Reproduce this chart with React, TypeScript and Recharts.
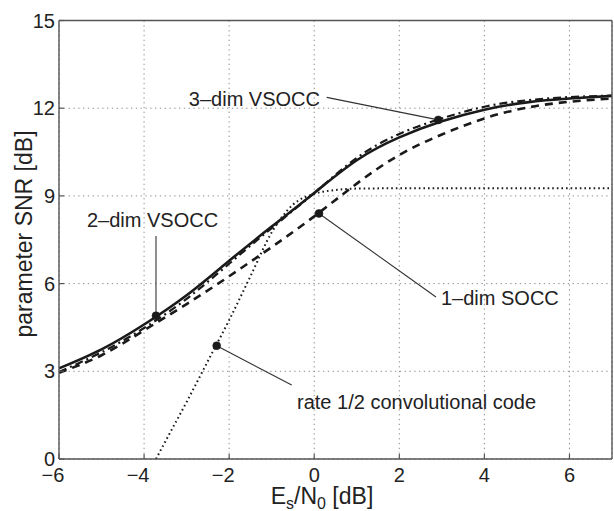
import React from 'react';
import { LineChart, Line, XAxis, YAxis, CartesianGrid, ReferenceDot, ReferenceLine } from 'recharts';

// Es/N0 [dB] sample points for the three VSOCC/SOCC curves
const esn0 = [-6, -5, -4, -3, -2, -1, 0, 1, 2, 3, 4, 5, 6, 7];
const vsocc2 = [3.1, 3.75, 4.6, 5.6, 6.78, 7.95, 9.1, 10.22, 11.0, 11.55, 11.95, 12.2, 12.33, 12.42];
const vsocc3 = [2.98, 3.65, 4.48, 5.48, 6.68, 7.9, 9.1, 10.3, 11.12, 11.65, 12.05, 12.27, 12.38, 12.43];
const socc1 = [2.95, 3.55, 4.4, 5.3, 6.25, 7.25, 8.3, 9.42, 10.4, 11.1, 11.65, 12.02, 12.22, 12.33];
// rate 1/2 convolutional code
const convX = [-3.72, -3.5, -3, -2.5, -2, -1.5, -1, -0.5, 0, 0.5, 1, 2, 7];
const convY = [0, 0.6, 1.95, 3.35, 4.75, 6.25, 7.75, 8.7, 9.07, 9.2, 9.25, 9.26, 9.26];

const xTicks = [-6, -4, -2, 0, 2, 4, 6];
const yTicks = [0, 3, 6, 9, 12, 15];

// annotations (data coordinates)
const annLabels = ['3\u2013dim VSOCC', '2\u2013dim VSOCC', '1\u2013dim SOCC', 'rate 1/2 convolutional code'];
const annDotX = [2.916, -3.72, 0.112, -2.293];
const annDotY = [11.6, 4.9, 8.4, 3.875];
const annLineX = [0.293, -3.72, 2.862, -0.53];
const annLineY = [12.37, 7.63, 5.54, 2.53];
const annTextX = [0.135, -2.26, 2.98, -0.405];
const annTextY = [12.07, 7.94, 5.27, 1.7];
const annAnchor = ['end', 'end', 'start', 'start'];

const FONT = '"Liberation Sans", Arial, Helvetica, sans-serif';
const INK = '#1a1a1a';
const AXIS = '#555';

const toPts = (xs: number[], ys: number[]) => xs.map((x, i) => ({ x, y: ys[i] }));
const d2 = toPts(esn0, vsocc2);
const d3 = toPts(esn0, vsocc3);
const d1 = toPts(esn0, socc1);
const dc = toPts(convX, convY);

const XTick = (props: any) => {
  const { x, y, payload } = props;
  const v = payload.value as number;
  const s = v < 0 ? '\u2212' + Math.abs(v) : String(v);
  return (
    <text x={x} y={y} dy="0.71em" dx={v < 0 ? -6 : 0} textAnchor="middle" fontSize={20} fontFamily={FONT} fill="#222">
      {s}
    </text>
  );
};

const YTitle = () => (
  <text x={31.5} y={234} transform="rotate(-90 31.5 234)" textAnchor="middle" fontSize={23} fontFamily={FONT} fill="#222">
    parameter SNR [dB]
  </text>
);

const XTitle = () => (
  <text x={322} y={504} textAnchor="middle" fontSize={23} fontFamily={FONT} fill="#222">
    E<tspan fontSize={16} dy={5}>s</tspan>
    <tspan dy={-5}>/N</tspan>
    <tspan fontSize={16} dy={5}>0</tspan>
    <tspan dy={-5}>{'\u00a0[dB]'}</tspan>
  </text>
);

const makeTextShape = (label: string, anchor: string) => (p: any) => (
  <text x={p.cx} y={p.cy} textAnchor={anchor} fontSize={20} fontFamily={FONT} fill="#222">
    {label}
  </text>
);

export default function App() {
  return (
    <div style={{ position: 'absolute', left: 0, top: 0, width: 614, height: 511, background: '#fff' }}>
      <LineChart width={614} height={511} margin={{ top: 19.5, right: 1, bottom: 51, left: 58 }}>
        <CartesianGrid stroke="#8a8a8a" strokeDasharray="1.3 3.5" strokeWidth={1} />
        <XAxis
          dataKey="x"
          type="number"
          domain={[-6, 7]}
          ticks={xTicks}
          allowDataOverflow
          height={1}
          tickSize={-5}
          tickMargin={14}
          tick={<XTick />}
          axisLine={{ stroke: AXIS, strokeWidth: 1.4 }}
          tickLine={{ stroke: AXIS, strokeWidth: 1.2 }}
          label={<XTitle />}
        />
        <XAxis
          xAxisId="top"
          orientation="top"
          type="number"
          domain={[-6, 7]}
          ticks={xTicks}
          allowDataOverflow
          height={1}
          tickSize={-5}
          tick={false}
          axisLine={{ stroke: AXIS, strokeWidth: 1.4 }}
          tickLine={{ stroke: AXIS, strokeWidth: 1.2 }}
        />
        <YAxis
          type="number"
          domain={[0, 15]}
          ticks={yTicks}
          allowDataOverflow
          width={1}
          tickSize={-5}
          tickMargin={9}
          tick={{ fontSize: 20, fontFamily: FONT, fill: '#222' }}
          axisLine={{ stroke: AXIS, strokeWidth: 1.4 }}
          tickLine={{ stroke: AXIS, strokeWidth: 1.2 }}
          label={<YTitle />}
        />
        <YAxis
          yAxisId="right"
          orientation="right"
          type="number"
          domain={[0, 15]}
          ticks={yTicks}
          allowDataOverflow
          width={1}
          tickSize={-5}
          tick={false}
          axisLine={{ stroke: AXIS, strokeWidth: 1.4 }}
          tickLine={{ stroke: AXIS, strokeWidth: 1.2 }}
        />
        <Line data={d2} dataKey="y" type="natural" stroke={INK} strokeWidth={2.6} dot={false} isAnimationActive={false} />
        <Line data={d3} dataKey="y" type="natural" stroke={INK} strokeWidth={2.2} strokeDasharray="8 4 2 4" dot={false} isAnimationActive={false} />
        <Line data={d1} dataKey="y" type="natural" stroke={INK} strokeWidth={2.6} strokeDasharray="8 6" dot={false} isAnimationActive={false} />
        <Line data={dc} dataKey="y" type="monotone" stroke={INK} strokeWidth={2} strokeDasharray="1.6 3" dot={false} isAnimationActive={false} />
        {annLabels.map((lab, i) => (
          <ReferenceLine
            key={'l' + i}
            segment={[{ x: annDotX[i], y: annDotY[i] }, { x: annLineX[i], y: annLineY[i] }]}
            stroke="#333"
            strokeWidth={1.1}
          />
        ))}
        {annLabels.map((lab, i) => (
          <ReferenceDot key={'d' + i} x={annDotX[i]} y={annDotY[i]} r={4} fill={INK} stroke={INK} strokeWidth={0.5} />
        ))}
        {annLabels.map((lab, i) => (
          <ReferenceDot key={'t' + i} x={annTextX[i]} y={annTextY[i]} r={0} shape={makeTextShape(lab, annAnchor[i])} />
        ))}
      </LineChart>
    </div>
  );
}
